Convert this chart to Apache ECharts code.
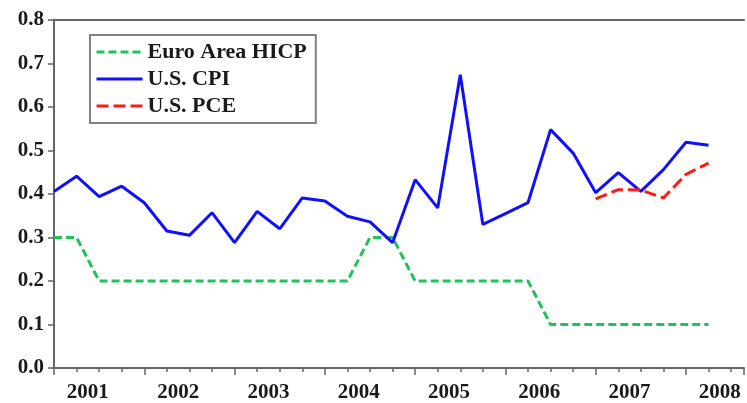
<!DOCTYPE html>
<html>
<head>
<meta charset="utf-8">
<script src="https://cdn.jsdelivr.net/npm/echarts@6/dist/echarts.min.js"></script>
<style>
  html, body { margin: 0; padding: 0; background: #fff; }
  #chart { width: 747px; height: 403px; }
</style>
</head>
<body>
<div id="chart"></div>
<script>
// quarterly data, 2001Q1 .. 2008Q2 (x = quarter index)
const years = ['2001', '2002', '2003', '2004', '2005', '2006', '2007', '2008'];
const euroHicp = [0.3, 0.3, 0.2, 0.2, 0.2, 0.2, 0.2, 0.2, 0.2, 0.2, 0.2, 0.2, 0.2, 0.2,
                  0.3, 0.3, 0.2, 0.2, 0.2, 0.2, 0.2, 0.2, 0.1, 0.1, 0.1, 0.1, 0.1, 0.1, 0.1, 0.1];
const usCpi = [0.406, 0.441, 0.394, 0.418, 0.380, 0.315, 0.305, 0.357, 0.288, 0.360,
               0.320, 0.391, 0.384, 0.349, 0.336, 0.288, 0.433, 0.368, 0.674, 0.330,
               0.355, 0.380, 0.548, 0.494, 0.403, 0.449, 0.406, 0.456, 0.519, 0.512];
const usPce = [null, null, null, null, null, null, null, null, null, null,
               null, null, null, null, null, null, null, null, null, null,
               null, null, null, null, 0.389, 0.410, 0.409, 0.391, 0.445, 0.471];

const FONT = '"Liberation Serif", "Times New Roman", serif';
const AXIS_COLOR = '#666';
const TXT = '#1a1a1a';
const XMAX = 30.57;

const toPairs = arr => arr.map((v, i) => [i, v]);

const chart = echarts.init(document.getElementById('chart'));

const baseX = {
  type: 'value', min: 0, max: XMAX, gridIndex: 0,
  splitLine: { show: false },
  axisLabel: { show: false },
  axisTick: { show: false },
  axisLine: { show: false }
};

chart.setOption({
  animation: false,
  grid: { left: 54, right: 0, top: 20, bottom: 34, containLabel: false },
  legend: {
    orient: 'vertical',
    left: 90, top: 35,
    padding: [6, 9, 6, 5],
    borderColor: '#808080', borderWidth: 2,
    itemWidth: 46, itemHeight: 14, itemGap: 5,
    lineStyle: { width: 3 },
    itemStyle: { opacity: 0 },
    textStyle: { fontFamily: FONT, fontWeight: 'bold', fontSize: 22, lineHeight: 22, color: TXT },
    data: ['Euro Area HICP', 'U.S. CPI', 'U.S. PCE']
  },
  xAxis: [
    Object.assign({}, baseX, {
      position: 'bottom', interval: 1,
      axisLine: { show: true, lineStyle: { color: AXIS_COLOR, width: 2 } },
      axisTick: { show: true, inside: false, length: 4, lineStyle: { color: AXIS_COLOR, width: 1.5 } }
    }),
    Object.assign({}, baseX, {
      position: 'bottom', interval: 4,
      axisTick: { show: true, inside: false, length: 7, lineStyle: { color: AXIS_COLOR, width: 1.5 } }
    }),
    Object.assign({}, baseX, {
      position: 'bottom', interval: 0.5,
      axisLabel: {
        show: true, margin: 14, showMinLabel: true, showMaxLabel: true,
        fontFamily: FONT, fontWeight: 'bold', fontSize: 21, color: TXT,
        formatter: v => {
          const k = (v - 1.5) / 4;
          return (Math.abs(k - Math.round(k)) < 1e-6 && years[Math.round(k)]) ? years[Math.round(k)] : '';
        }
      }
    }),
    Object.assign({}, baseX, {
      position: 'top',
      axisLine: { show: true, lineStyle: { color: AXIS_COLOR, width: 2 } }
    })
  ],
  yAxis: {
    type: 'value', min: 0, max: 0.8, interval: 0.1,
    splitLine: { show: false },
    axisLine: { show: true, lineStyle: { color: AXIS_COLOR, width: 2 } },
    axisTick: { show: true, inside: false, length: 6, lineStyle: { color: AXIS_COLOR, width: 1.5 } },
    axisLabel: {
      margin: 10, fontFamily: FONT, fontWeight: 'bold', fontSize: 21, color: TXT,
      formatter: v => v.toFixed(1)
    }
  },
  series: [
    {
      name: 'Euro Area HICP', type: 'line', xAxisIndex: 0, symbol: 'none',
      data: toPairs(euroHicp),
      lineStyle: { color: '#1fc35a', width: 3, type: [8, 4] },
      itemStyle: { color: '#1fc35a' }
    },
    {
      name: 'U.S. CPI', type: 'line', xAxisIndex: 0, symbol: 'none',
      data: toPairs(usCpi),
      lineStyle: { color: '#1010ff', width: 3 },
      itemStyle: { color: '#1010ff' }
    },
    {
      name: 'U.S. PCE', type: 'line', xAxisIndex: 0, symbol: 'none',
      data: toPairs(usPce).filter(p => p[1] !== null),
      lineStyle: { color: '#ff1a1a', width: 3, type: [12, 5] },
      itemStyle: { color: '#ff1a1a' }
    }
  ]
});
</script>
</body>
</html>
